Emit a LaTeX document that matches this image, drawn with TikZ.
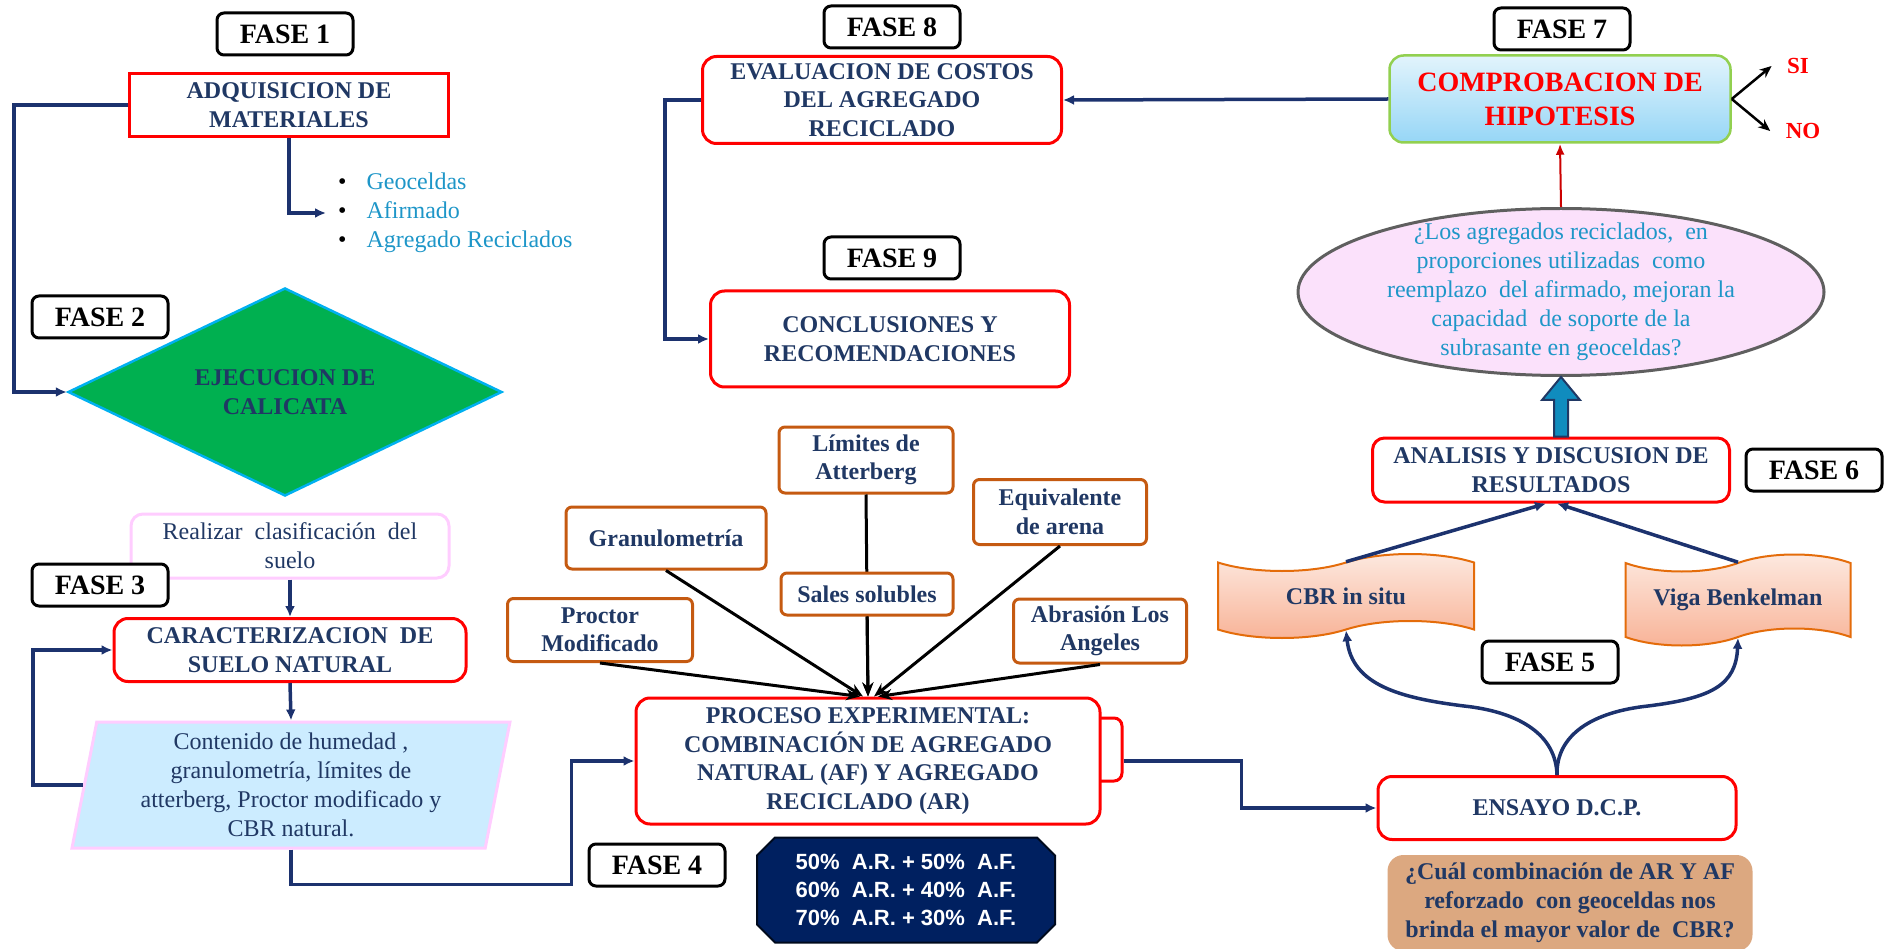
\documentclass[tikz,border=0pt]{standalone}
\usepackage{fontspec}
\setmainfont{Liberation Serif}
\setsansfont{Liberation Sans}
\usetikzlibrary{calc, arrows.meta, shapes.geometric, shapes.symbols, shapes.misc}

\definecolor{navy}{RGB}{32,56,100}
\definecolor{flowblue}{RGB}{28,50,110}
\definecolor{boxred}{RGB}{255,0,0}
\definecolor{testorange}{RGB}{197,90,17}
\definecolor{listcyan}{RGB}{30,150,200}
\definecolor{diagreen}{RGB}{0,176,80}
\definecolor{diacyan}{RGB}{0,176,240}
\definecolor{softpink}{RGB}{255,205,255}
\definecolor{paramblue}{RGB}{204,236,255}
\definecolor{comptop}{RGB}{226,244,252}
\definecolor{compbot}{RGB}{150,214,246}
\definecolor{compgreen}{RGB}{146,208,80}
\definecolor{hyppink}{RGB}{251,225,251}
\definecolor{hypgray}{RGB}{95,95,95}
\definecolor{tapetop}{RGB}{253,234,225}
\definecolor{tapebot}{RGB}{248,178,150}
\definecolor{tapeline}{RGB}{228,108,10}
\definecolor{mixnavy}{RGB}{0,32,96}
\definecolor{beige}{RGB}{220,168,128}
\definecolor{uparrow}{RGB}{16,140,190}

\begin{document}
\begin{tikzpicture}[x=1pt, y=-1pt,
    fase/.style={draw=black, fill=white, line width=3pt, rounded corners=7pt,
        minimum width=136pt, minimum height=42pt, inner sep=0pt,
        font=\fontsize{28}{30}\selectfont\bfseries},
    redbox/.style={draw=boxred, fill=white, line width=3pt, align=center, inner sep=0pt,
        text=navy, font=\fontsize{24}{28.5}\selectfont\bfseries},
    roundbox/.style={redbox, rounded corners=14pt},
    testbox/.style={draw=testorange, fill=white, line width=3pt, rounded corners=6pt,
        align=center, inner sep=0pt, text=navy, font=\fontsize{24}{28.5}\selectfont\bfseries},
    tapebox/.style={tape, draw=tapeline, line width=2pt, top color=tapetop, bottom color=tapebot,
        tape bend height=17pt, inner sep=0pt, text=navy, font=\fontsize{24}{28.5}\selectfont\bfseries},
    flow/.style={draw=flowblue, line width=3.5pt, -{Latex[length=11pt,width=10pt]}},
    fan/.style={draw=black, line width=3pt, -{Stealth[length=14pt,width=11pt]}},
]
    \useasboundingbox (0,0) rectangle (1890,949);

    % fase 1 y 2
    \node[fase] (f1) at (285,34) {FASE 1};
    \node[redbox, minimum width=319pt, minimum height=63pt] (adq) at (289,105) {ADQUISICION DE\\MATERIALES};
    \node[anchor=west, align=left, inner xsep=12pt, inner ysep=0pt, text=listcyan,
        font=\fontsize{24}{29}\selectfont] (mats) at (326,213)
        {\textcolor{black}{\textbullet}\hspace{20pt}Geoceldas\\
         \textcolor{black}{\textbullet}\hspace{20pt}Afirmado\\
         \textcolor{black}{\textbullet}\hspace{20pt}Agregado Reciclados};
    \node[fase] (f2) at (100,317) {FASE 2};
    \node[diamond, aspect=2.09, draw=diacyan, fill=diagreen, line width=2.5pt,
        minimum width=434pt, minimum height=208pt, inner sep=0pt, align=center,
        text=navy, font=\fontsize{24}{28.5}\selectfont\bfseries] (cal) at (285,392) {EJECUCION DE\\CALICATA};
    \draw[flow] (adq.west) -- ++(-114,0) |- (cal.west);
    \draw[flow] (adq.south) |- (mats.west);

    % fase 3
    \node[draw=softpink, line width=3pt, rounded corners=12pt, minimum width=318pt, minimum height=64pt,
        inner sep=0pt, align=center, text=navy, font=\fontsize{24}{29}\selectfont] (real) at (290,546)
        {Realizar\ \ clasificación\ \ del\\suelo};
    \node[fase] (f3) at (100,585) {FASE 3};
    \node[roundbox, minimum width=352pt, minimum height=63pt] (car) at (290,650) {CARACTERIZACION\ \ DE\\SUELO NATURAL};
    \node[trapezium, trapezium left angle=76.6, trapezium right angle=103.4, trapezium stretches body,
        draw=softpink, fill=paramblue, line width=3pt, minimum width=438pt, minimum height=126pt,
        inner sep=0pt, align=center, text=navy, font=\fontsize{24}{29}\selectfont] (param) at (291,785)
        {Contenido de humedad ,\\granulometría, límites de\\atterberg, Proctor modificado y\\CBR natural.};
    \draw[flow] (real.south) -- (car.north);
    \draw[flow] (car.south) -- (param.north);
    \draw[flow] (param.west) -- ++(-50,0) |- (car.west);

    % fase 4
    \node[draw=boxred, fill=white, line width=3pt, rounded corners=8pt, minimum width=50pt,
        minimum height=63pt] (tab) at (1097,749.5) {};
    \node[roundbox, minimum width=464pt, minimum height=126pt] (proc) at (868,761)
        {PROCESO EXPERIMENTAL:\\COMBINACIÓN DE AGREGADO\\NATURAL (AF) Y AGREGADO\\RECICLADO (AR)};
    \draw[flow] (param.south) -- ++(0,35) -| ($(proc.west)+(-63,0)$) -- (proc.west);
    \node[fase] (f4) at (657,865) {FASE 4};
    \node[chamfered rectangle, chamfered rectangle xsep=9pt, chamfered rectangle ysep=9pt,
        draw=black!70!mixnavy, fill=mixnavy, line width=2pt, minimum width=298pt, minimum height=105pt,
        inner sep=0pt, align=center, text=white, font=\sffamily\bfseries\fontsize{22}{28}\selectfont] (mix) at (906,890)
        {50\%\ \ A.R. + 50\%\ \ A.F.\\60\%\ \ A.R. + 40\%\ \ A.F.\\70\%\ \ A.R. + 30\%\ \ A.F.};

    % ensayos
    \node[testbox, minimum width=174pt, minimum height=66pt] (lim) at (866,460) {Límites de\\Atterberg};
    \node[testbox, minimum width=200pt, minimum height=62pt] (gra) at (666,538) {Granulometría};
    \node[testbox, minimum width=185pt, minimum height=63pt] (prm) at (600,630) {Proctor\\Modificado};
    \node[testbox, minimum width=173pt, minimum height=65pt] (equ) at (1060,512) {Equivalente\\de arena};
    \node[testbox, minimum width=173pt, minimum height=64pt] (abr) at (1100,631) {Abrasión Los\\Angeles};
    \draw[fan] (lim.south) -- (proc.north);
    \node[testbox, minimum width=172pt, minimum height=42pt] (sal) at (867,594) {Sales solubles};
    \draw[fan] (sal.south) -- (proc.north);
    \draw[fan] (gra.south) -- ([xshift=-5pt]proc.north);
    \draw[fan] (prm.south) -- ([xshift=-8pt]proc.north);
    \draw[fan] (equ.south) -- ([xshift=6pt]proc.north);
    \draw[fan] (abr.south) -- ([xshift=10pt]proc.north);

    % fase 8 y 9
    \node[fase] (f8) at (892,27) {FASE 8};
    \node[roundbox, minimum width=359pt, minimum height=87pt] (eval) at (882,100) {EVALUACION DE COSTOS\\DEL AGREGADO\\RECICLADO};
    \node[fase] (f9) at (892,258) {FASE 9};
    \node[roundbox, minimum width=359pt, minimum height=96pt] (concl) at (890,339) {CONCLUSIONES Y\\RECOMENDACIONES};
    \draw[flow] (eval.west) -- ++(-36,0) |- (concl.west);

    % fase 7
    \node[fase] (f7) at (1562,29) {FASE 7};
    \node[draw=compgreen, line width=2.5pt, rounded corners=14pt, top color=comptop, bottom color=compbot,
        minimum width=341pt, minimum height=87pt, inner sep=0pt, align=center, text=boxred,
        font=\fontsize{28}{34}\selectfont\bfseries] (comp) at (1560,99) {COMPROBACION DE\\HIPOTESIS};
    \draw[flow] (comp.west) -- (eval.east);
    \node[text=boxred, font=\fontsize{23}{25}\selectfont\bfseries] (si) at (1798,66) {SI};
    \node[text=boxred, font=\fontsize{23}{25}\selectfont\bfseries] (no) at (1803,131) {NO};
    \draw[line width=2.5pt, -{Stealth[length=12pt,width=10pt]}] (comp.east) -- ([xshift=-12pt]si.west);
    \draw[line width=2.5pt, -{Stealth[length=12pt,width=10pt]}] (comp.east) -- ([xshift=-12pt]no.west);

    \node[ellipse, draw=hypgray, fill=hyppink, line width=3pt, minimum width=526pt, minimum height=167pt,
        inner sep=0pt] (hyp) at (1561,292) {};
    \node[align=center, inner sep=0pt, text=listcyan, font=\fontsize{24}{29}\selectfont] (hyptxt) at (hyp.center)
        {¿Los agregados reciclados,\ \ en\\proporciones utilizadas\ \ como\\reemplazo\ \ del afirmado, mejoran la\\capacidad\ \ de soporte de la\\subrasante en geoceldas?};
    \draw[draw=red!80!black, line width=2pt, -{Latex[length=11pt,width=9pt]}] (hyp.north) -- (comp.south);

    % fase 6
    \node[roundbox, rounded corners=12pt, minimum width=357pt, minimum height=64pt] (ana) at (1551,470) {ANALISIS Y DISCUSION DE\\RESULTADOS};
    \node[fase] (f6) at (1814,470) {FASE 6};
    \coordinate (uptip) at (hyp.south);
    \coordinate (upend) at (hyp.south |- ana.north);
    \filldraw[draw=navy, fill=uparrow, line width=2pt]
        ($(upend)+(-7,0)$) -- ($(uptip)+(-7,23)$) -- ($(uptip)+(-19,23)$) -- (uptip)
        -- ($(uptip)+(19,23)$) -- ($(uptip)+(7,23)$) -- ($(upend)+(7,0)$) -- cycle;

    % fase 5
    \node[tapebox, minimum width=256pt, minimum height=84pt] (cbr) at (1346,596) {CBR in situ};
    \node[tapebox, minimum width=225pt, minimum height=91pt] (viga) at (1738,600) {Viga Benkelman};
    \draw[flow] (cbr.north) -- ([xshift=-5pt]ana.south);
    \draw[flow] (viga.north) -- ([xshift=6pt]ana.south);
    \node[fase] (f5) at (1550,662) {FASE 5};
    \node[roundbox, minimum width=358pt, minimum height=63pt] (ens) at (1557,808) {ENSAYO D.C.P.};
    \draw[flow] (tab.east |- proc.east) -- ++(118,0) |- (ens.west);
    \draw[flow] (ens.north) .. controls (1556,735) and (1520,712) .. (1464,706)
        .. controls (1400,698) and (1352,685) .. (cbr.south);
    \draw[flow] (ens.north) .. controls (1556,735) and (1592,712) .. (1648,706)
        .. controls (1712,698) and (1736,685) .. (viga.south);
    \node[fill=beige, rounded corners=16pt, minimum width=365pt, minimum height=96pt, inner sep=0pt,
        align=center, text=navy, font=\fontsize{24}{29}\selectfont\bfseries] (qst) at (1570,903)
        {¿Cuál combinación de AR Y AF\\reforzado\ \ con geoceldas nos\\brinda el mayor valor de\ \ CBR?};
\end{tikzpicture}
\end{document}
